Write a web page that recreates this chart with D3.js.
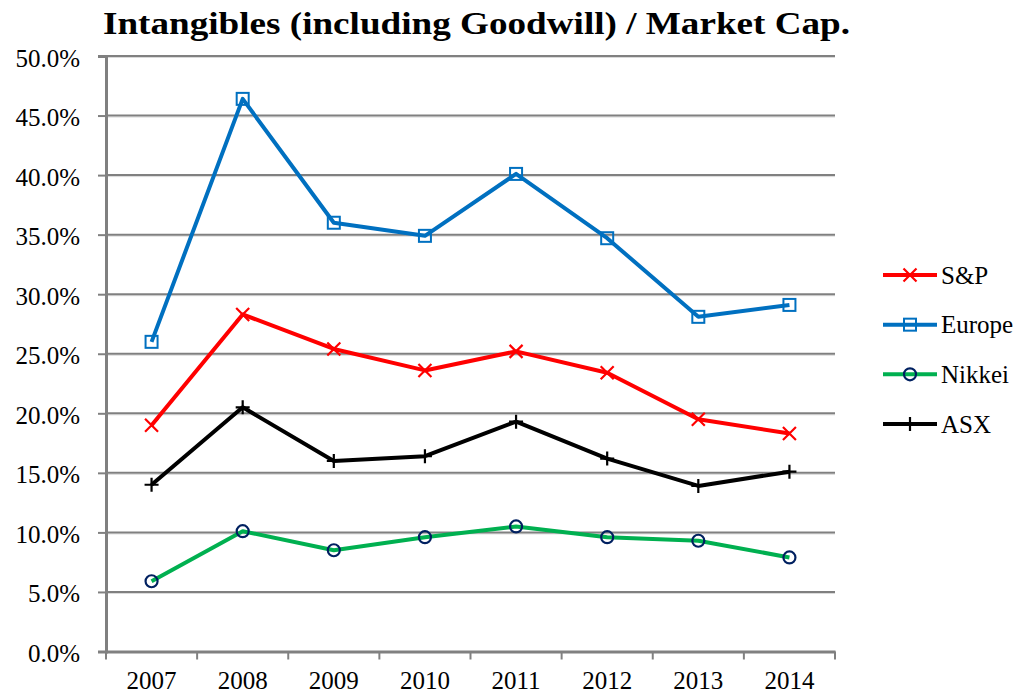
<!DOCTYPE html>
<html>
<head>
<meta charset="utf-8">
<script src="https://cdn.jsdelivr.net/npm/d3@7/dist/d3.min.js"></script>
<style>
  body { margin: 0; background: #fff; }
  text { font-family: "Liberation Serif", "Times New Roman", serif; fill: #000; }
</style>
</head>
<body>
<svg id="chart" width="1020" height="696"></svg>
<script>
// data
const years = ["2007", "2008", "2009", "2010", "2011", "2012", "2013", "2014"];
const sp = [19.0, 28.3, 25.4, 23.6, 25.2, 23.4, 19.5, 18.3];
const europe = [26.0, 46.4, 36.0, 34.9, 40.1, 34.7, 28.1, 29.1];
const nikkei = [5.9, 10.1, 8.5, 9.6, 10.5, 9.6, 9.3, 7.9];
const asx = [14.0, 20.5, 16.0, 16.4, 19.3, 16.2, 13.9, 15.1];
const yTicks = [0, 5, 10, 15, 20, 25, 30, 35, 40, 45, 50];

const series = [
  { name: "S&P", values: sp, color: "#ff0000", marker: "x" },
  { name: "Europe", values: europe, color: "#0070c0", marker: "square" },
  { name: "Nikkei", values: nikkei, color: "#00b050", marker: "circle" },
  { name: "ASX", values: asx, color: "#000000", marker: "plus" }
];

const svg = d3.select("#chart");
const plotL = 106, plotR = 835, plotT = 56, plotB = 651.5;

const x = d3.scaleBand().domain(years).range([plotL, plotR]);
const y = d3.scaleLinear().domain([0, 50]).range([plotB, plotT]);

// title
svg.append("text")
  .attr("x", 103).attr("y", 34)
  .attr("font-size", 32).attr("font-weight", "bold")
  .attr("textLength", 747).attr("lengthAdjust", "spacingAndGlyphs")
  .text("Intangibles (including Goodwill) / Market Cap.");

// gridlines
const grid = svg.append("g");
yTicks.filter(d => d > 0).forEach(t => {
  grid.append("line").attr("x1", plotL).attr("x2", plotR)
    .attr("y1", y(t) + 1.5).attr("y2", y(t) + 1.5)
    .attr("stroke", "#d9d9d9").attr("stroke-width", 1);
  grid.append("line").attr("x1", plotL).attr("x2", plotR)
    .attr("y1", y(t)).attr("y2", y(t))
    .attr("stroke", "#808080").attr("stroke-width", 2);
});

// y axis
const yAxis = d3.axisLeft(y).tickValues(yTicks).tickSize(8).tickPadding(18)
  .tickFormat(d => d.toFixed(1) + "%");
const gy = svg.append("g").attr("transform", `translate(${plotL},0)`).call(yAxis);
gy.select(".domain").attr("stroke", "#808080").attr("stroke-width", 3);
gy.selectAll(".tick line").attr("stroke", "#808080").attr("stroke-width", 2);
gy.selectAll(".tick text").attr("font-size", 25).attr("dy", "0.4em").attr("fill", "#000");

// x axis
const xAxis = d3.axisBottom(x).tickSize(0);
const gx = svg.append("g").attr("transform", `translate(0,${plotB})`).call(xAxis);
gx.select(".domain").attr("stroke", "#808080").attr("stroke-width", 3);
gx.selectAll(".tick text").attr("font-size", 25).attr("y", 37).attr("dy", 0).attr("fill", "#000");
// boundary tick marks
const bounds = years.map(d => x(d)).concat([plotR]);
gx.selectAll(".bound").data(bounds).join("line").attr("class", "bound")
  .attr("x1", d => d).attr("x2", d => d).attr("y1", 0).attr("y2", 8)
  .attr("stroke", "#808080").attr("stroke-width", 2);

function drawMarker(g, type, cx, cy, color) {
  if (type === "x") {
    const s = 6.5;
    g.append("path").attr("d", `M${cx - s},${cy - s}L${cx + s},${cy + s}M${cx - s},${cy + s}L${cx + s},${cy - s}`)
      .attr("stroke", color).attr("stroke-width", 2.2).attr("fill", "none");
  } else if (type === "square") {
    g.append("rect").attr("x", cx - 6).attr("y", cy - 6).attr("width", 12).attr("height", 12)
      .attr("stroke", color).attr("stroke-width", 2).attr("fill", "none");
  } else if (type === "circle") {
    g.append("circle").attr("cx", cx).attr("cy", cy).attr("r", 6)
      .attr("stroke", "#002060").attr("stroke-width", 2.2).attr("fill", "none");
  } else {
    const s = 7;
    g.append("path").attr("d", `M${cx - s},${cy}L${cx + s},${cy}M${cx},${cy - s}L${cx},${cy + s}`)
      .attr("stroke", color).attr("stroke-width", 2.2).attr("fill", "none");
  }
}

const cxOf = i => x(years[i]) + x.bandwidth() / 2;
const line = d3.line().x((d, i) => cxOf(i)).y(d => y(d));

series.forEach(s => {
  const g = svg.append("g");
  g.append("path").attr("d", line(s.values))
    .attr("fill", "none").attr("stroke", s.color).attr("stroke-width", 4)
    .attr("stroke-linejoin", "round");
  s.values.forEach((v, i) => drawMarker(g, s.marker, cxOf(i), y(v), s.color));
});

// legend
const legendY = d3.scalePoint().domain(series.map(s => s.name)).range([275, 424]);
series.forEach(s => {
  const g = svg.append("g");
  const ly = legendY(s.name);
  g.append("line").attr("x1", 883).attr("x2", 937).attr("y1", ly).attr("y2", ly)
    .attr("stroke", s.color).attr("stroke-width", 4);
  drawMarker(g, s.marker, 910, ly, s.color);
  g.append("text").attr("x", 941).attr("y", ly + 8.5).attr("font-size", 25).text(s.name);
});
</script>
</body>
</html>
